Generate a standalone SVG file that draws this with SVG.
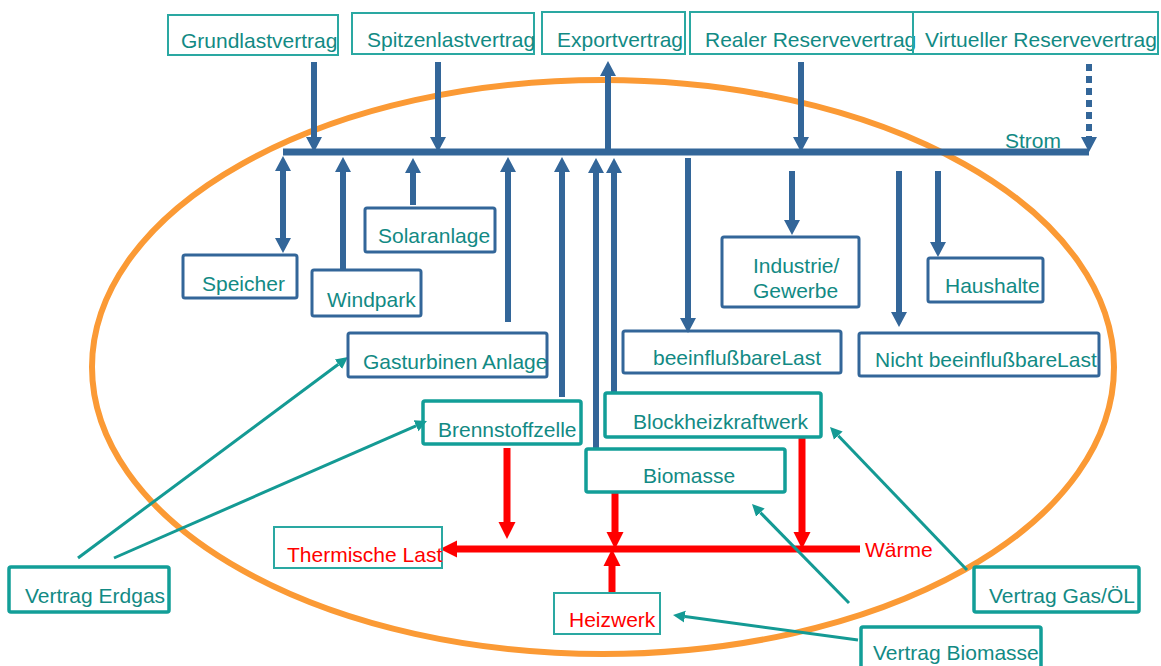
<svg xmlns="http://www.w3.org/2000/svg" width="1161" height="666" viewBox="0 0 1161 666">
<style>
text{font-family:"Liberation Sans",Arial,sans-serif;font-size:21px;fill:#128a84}
text.r{fill:#ff0000}
.tt{fill:none;stroke:#2aa8a2;stroke-width:2}
.tk{fill:none;stroke:#129e98;stroke-width:3.5}
.bb{fill:none;stroke:#336699;stroke-width:3}
.b{fill:none;stroke:#336699;stroke-width:6;marker-end:url(#bh)}
.rd{fill:none;stroke:#ff0000;stroke-width:7;marker-end:url(#rh)}
.tl{fill:none;stroke:#149a94;stroke-width:3;marker-end:url(#th)}
</style>
<defs>
<marker id="bh" markerUnits="userSpaceOnUse" viewBox="0 -10 20 20" refX="0" refY="0" markerWidth="20" markerHeight="20" orient="auto-start-reverse"><path d="M0,-8 L15,0 L0,8 Z" fill="#336699"/></marker>
<marker id="rh" markerUnits="userSpaceOnUse" viewBox="0 -10 20 20" refX="0" refY="0" markerWidth="20" markerHeight="20" orient="auto"><path d="M0,-8.5 L17,0 L0,8.5 Z" fill="#ff0000"/></marker>
<marker id="th" markerUnits="userSpaceOnUse" viewBox="0 -10 20 20" refX="0" refY="0" markerWidth="20" markerHeight="20" orient="auto"><path d="M0,-6 L12,0 L0,6 Z" fill="#149a94"/></marker>
</defs>
<rect width="1161" height="666" fill="#ffffff"/>
<ellipse cx="603" cy="367" rx="511" ry="287" fill="none" stroke="#fb9a35" stroke-width="6"/>

<g id="connectors">
<line x1="283" y1="152" x2="1089" y2="152" stroke="#336699" stroke-width="7"/>
<line class="b" x1="314" y1="62" x2="314" y2="137"/>
<line class="b" x1="438" y1="62" x2="438" y2="137"/>
<line class="b" x1="801" y1="62" x2="801" y2="137"/>
<line class="b" x1="1089" y1="64" x2="1089" y2="137" stroke-dasharray="7,5"/>
<line class="b" x1="608" y1="152" x2="608" y2="76"/>
<line class="b" x1="283" y1="171" x2="283" y2="238" style="marker-start:url(#bh)"/>
<line class="b" x1="343" y1="270" x2="343" y2="172" stroke-width="8"/>
<line class="b" x1="413" y1="205" x2="413" y2="173" stroke-width="7"/>
<line class="b" x1="508" y1="322" x2="508" y2="172" stroke-width="8"/>
<line class="b" x1="562" y1="397" x2="562" y2="172"/>
<line class="b" x1="596" y1="450" x2="596" y2="173" stroke-width="7"/>
<line class="b" x1="614" y1="393" x2="614" y2="173" stroke-width="5"/>
<line class="b" x1="688" y1="158" x2="688" y2="318"/>
<line class="b" x1="792" y1="171" x2="792" y2="220" stroke-width="8"/>
<line class="b" x1="899" y1="171" x2="899" y2="312" stroke-width="8"/>
<line class="b" x1="938" y1="171" x2="938" y2="242"/>
<line class="rd" x1="860" y1="549" x2="457" y2="549"/>
<line class="rd" x1="507" y1="448" x2="507" y2="522"/>
<line class="rd" x1="615" y1="492" x2="615" y2="532"/>
<line class="rd" x1="802" y1="437" x2="802" y2="532"/>
<line class="rd" x1="612" y1="592" x2="612" y2="566"/>
<line class="tl" x1="78" y1="558" x2="338.4" y2="364.2"/>
<line class="tl" x1="114" y1="558" x2="416" y2="425.8"/>
<line class="tl" x1="967" y1="570" x2="838.3" y2="435.7"/>
<line class="tl" x1="849" y1="603" x2="760.4" y2="512.6"/>
<line class="tl" x1="858" y1="640" x2="684.9" y2="616.6"/>
</g>

<g id="grundlast"><rect class="tt" x="168" y="15" width="170" height="40"/><text x="181" y="48">Grundlastvertrag</text></g>
<g id="spitzenlast"><rect class="tt" x="352" y="13" width="182" height="41"/><text x="367" y="47">Spitzenlastvertrag</text></g>
<g id="export"><rect class="tt" x="542" y="12" width="143" height="42"/><text x="557" y="47">Exportvertrag</text></g>
<g id="realer"><rect class="tt" x="690" y="12" width="223" height="42"/><text x="705" y="47">Realer Reservevertrag</text></g>
<g id="virtueller"><rect class="tt" x="913" y="12" width="245" height="42"/><text x="925" y="47">Virtueller Reservevertrag</text></g>
<g id="strom"><text x="1005" y="148">Strom</text></g>

<g id="speicher"><rect class="bb" x="183" y="255" width="114" height="43" rx="2"/><text x="202" y="291">Speicher</text></g>
<g id="windpark"><rect class="bb" x="312" y="270" width="109" height="46" rx="2"/><text x="327" y="307">Windpark</text></g>
<g id="solar"><rect class="bb" x="365" y="208" width="130" height="44" rx="2"/><text x="378" y="243">Solaranlage</text></g>
<g id="gasturbine"><rect class="bb" x="348" y="333" width="199" height="44" rx="2"/><text x="363" y="369">Gasturbinen Anlage</text></g>
<g id="beeinfluss"><rect class="bb" x="623" y="331" width="218" height="42" rx="2"/><text x="653" y="365">beeinflußbareLast</text></g>
<g id="industrie"><rect class="bb" x="722" y="237" width="137" height="70" rx="2"/><text x="753" y="273">Industrie/</text><text x="753" y="298">Gewerbe</text></g>
<g id="nicht"><rect class="bb" x="859" y="333" width="240" height="43" rx="2"/><text x="875" y="367">Nicht beeinflußbareLast</text></g>
<g id="haushalte"><rect class="bb" x="928" y="258" width="115" height="44" rx="2"/><text x="945" y="293">Haushalte</text></g>

<g id="brennstoff"><rect class="tk" x="423" y="401" width="158" height="43" rx="2"/><text x="438" y="437">Brennstoffzelle</text></g>
<g id="bhkw"><rect class="tk" x="605" y="393" width="216" height="44" rx="2"/><text x="633" y="429">Blockheizkraftwerk</text></g>
<g id="biomasse"><rect class="tk" x="586" y="449" width="199" height="43" rx="2"/><text x="643" y="483">Biomasse</text></g>

<g id="thermisch"><rect class="tt" x="274" y="527" width="168" height="41"/><text class="r" x="287" y="562">Thermische Last</text></g>
<g id="waerme"><text class="r" x="865" y="557">Wärme</text></g>
<g id="heizwerk"><rect class="tt" x="554" y="593" width="106" height="41"/><text class="r" x="569" y="627">Heizwerk</text></g>

<g id="erdgas"><rect class="tk" x="9" y="567" width="160" height="45" rx="2"/><text x="25" y="603">Vertrag Erdgas</text></g>
<g id="gasoel"><rect class="tk" x="974" y="567" width="165" height="45" rx="2"/><text x="989" y="603">Vertrag Gas/ÖL</text></g>
<g id="vbiomasse"><rect class="tk" x="861" y="627" width="180" height="45" rx="2"/><text x="873" y="660">Vertrag Biomasse</text></g>
</svg>
